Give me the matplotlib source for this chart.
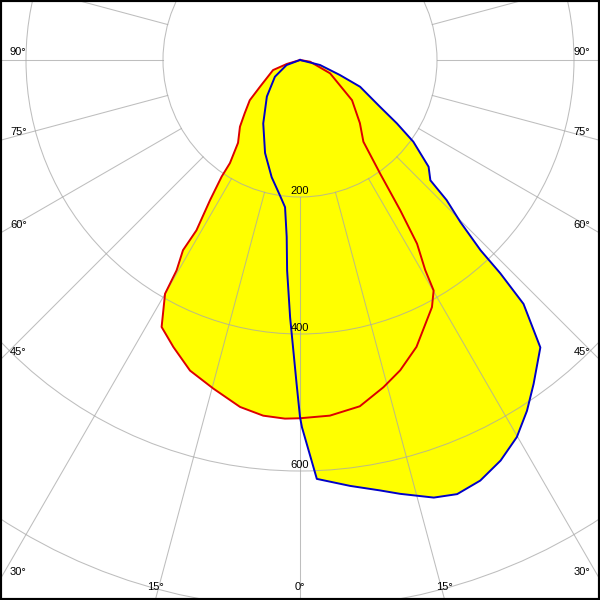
import numpy as np
import matplotlib
matplotlib.use("Agg")
import matplotlib.pyplot as plt
from matplotlib.patches import Circle

# luminous intensity (cd) vs gamma angle (deg from nadir)
# C0-C180 plane (red), right half = C0, left half = C180
red_c0_gamma = [0, 4.8, 9.8, 14.3, 17.9, 22.1, 28.1, 30.1, 30.8, 32.5, 33.7, 35.2,
                37.8, 43.5, 52.3, 66.1, 80.4, 90]
red_c0_cd = [523, 521, 513, 493, 476, 452, 409, 389, 357, 318, 264, 203,
             151, 127, 96, 48, 15, 0]
red_c180_gamma = [0, 2.4, 5.9, 9.8, 14.8, 19.5, 23.8, 27.4, 30.0, 30.4, 31.6, 31.3,
                  32.7, 33.9, 34.2, 36.8, 42.0, 46.1, 51.3, 56.3, 69.5, 73.3, 90]
red_c180_cd = [523, 524, 522, 514, 496, 481, 458, 439, 394, 356, 326, 291,
               243, 205, 182, 151, 131, 112, 94, 70, 42, 20, 0]

# C90-C270 plane (blue), right half = C90, left half = C270
blue_c90_gamma = [0.3, 2.3, 6.7, 10.5, 13.0, 17.0, 19.9, 23.2, 26.6, 29.9, 32.9, 35.8,
                  39.9, 42.5, 43.2, 43.5, 44.7, 46.3, 47.3, 50.3, 54.2, 56.8, 59.7,
                  66.0, 69.4, 76.0, 90]
blue_c90_cd = [536, 612, 626, 639, 650, 668, 674, 668, 654, 635, 610, 583,
               547, 483, 427, 383, 333, 296, 259, 244, 204, 169, 135,
               96, 62, 30, 0]
blue_c270_gamma = [0, 0.6, 2.2, 3.5, 4.3, 5.8, 8.4, 13.6, 20.6, 30.1, 42.2, 56.3, 69.4, 90]
blue_c270_cd = [521, 473, 376, 308, 259, 216, 200, 176, 145, 107, 72, 44, 21, 0]

ring_values = [200, 400, 600, 800, 1000, 1200]
ring_labels = [200, 400, 600]
angle_labels = [0, 15, 30, 45, 60, 75, 90]

SCALE = 137 / 200  # px per cd
CX, CY = 300, 60   # pole position in pixels


def to_xy(gamma, cd, side):
    g = np.radians(gamma)
    cd = np.asarray(cd, dtype=float)
    return side * cd * np.sin(g), -cd * np.cos(g)


def closed_curve(g_left, cd_left, g_right, cd_right):
    xl, yl = to_xy(g_left, cd_left, -1)
    xr, yr = to_xy(g_right, cd_right, 1)
    x = np.concatenate([xl[::-1], xr])
    y = np.concatenate([yl[::-1], yr])
    return x, y


rx, ry = closed_curve(red_c180_gamma, red_c180_cd, red_c0_gamma, red_c0_cd)
bx, by = closed_curve(blue_c270_gamma, blue_c270_cd, blue_c90_gamma, blue_c90_cd)

fig = plt.figure(figsize=(6, 6), dpi=100)
ax = fig.add_axes([0, 0, 1, 1])
xmax = CX / SCALE
ymin, ymax = -(600 - CY) / SCALE, CY / SCALE
ax.set_xlim(-xmax, xmax)
ax.set_ylim(ymin, ymax)
ax.set_aspect("auto")
ax.set_xticks([])
ax.set_yticks([])
for sp in ax.spines.values():
    sp.set_color("black")
    sp.set_linewidth(3)

# yellow fill of both planes
ax.fill(rx, ry, color="#ffff00", lw=0, zorder=1)
ax.fill(bx, by, color="#ffff00", lw=0, zorder=1)

# grid: rings and radial lines (drawn over the fill)
grid_kw = dict(color="#a8a8a8", alpha=0.75, lw=0.75, zorder=2)
for r in ring_values:
    ax.add_patch(Circle((0, 0), r, fill=False, **grid_kw))
for a in range(0, 360, 15):
    t = np.radians(a)
    ax.plot([200 * np.sin(t), 1500 * np.sin(t)],
            [-200 * np.cos(t), -1500 * np.cos(t)], **grid_kw)

# curves
ax.plot(rx, ry, color="#dd0000", lw=1.4, zorder=4)
ax.plot(bx, by, color="#0000c8", lw=1.4, zorder=5)

font = dict(family="Liberation Sans", fontsize=8, color="black")

# intensity labels on the 0 deg axis
for r in ring_labels:
    ax.annotate(str(r), (0, -r), xytext=(0, 1), textcoords="offset pixels",
                ha="center", va="bottom", zorder=6, **font)

# angle labels where the radial lines leave the frame
for g in angle_labels:
    for side in (-1, 1):
        if g == 0 and side == 1:
            continue
        s, c = np.sin(np.radians(g)), np.cos(np.radians(g))
        tx = xmax / s if s > 1e-9 else np.inf
        ty = -ymin / c if c > 1e-9 else np.inf
        t = min(tx, ty)
        px, py = side * s * t, -c * t
        if tx <= ty:
            off = (10 if side < 0 else -10, 8)
            ha = "left" if side < 0 else "right"
        else:
            off = (0, 13)
            ha = "center"
        ax.annotate(f"{g}°", (px, py), xytext=off, textcoords="offset pixels",
                    ha=ha, va="center", zorder=6, **font)

fig.savefig("out.png", dpi=100)
